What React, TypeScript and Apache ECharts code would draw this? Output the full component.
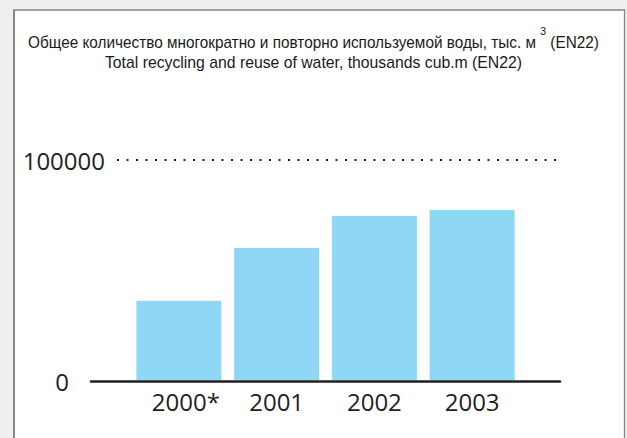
import React, { useEffect, useRef } from "react";
import * as echarts from "echarts";

const categories = ["2000*", "2001", "2002", "2003"];
const values = [36000, 60000, 74500, 77300];
const yMax = 100000;
const titleLine1 = "Общее количество многократно и повторно используемой воды, тыс. м";
const titleSup = "3";
const titleLine1End = " (EN22)";
const titleLine2 = "Total recycling and reuse of water, thousands cub.m (EN22)";

const TEXT = "#231f20";
const TITLE_COLOR = "#1a1a1a";
const LABEL_FONT = "'Open Sans', 'Noto Sans', sans-serif";
const TITLE_FAMILY = "'Liberation Sans', Arial, sans-serif";
const TITLE_SIZE = 16;
const SUP_SIZE = 11;
const LINE1_SCALE = 0.958;
const LINE2_SCALE = 0.986;
const CENTER_X = 313.5;

function measure(text: string, size: number): number {
  const ctx = document.createElement("canvas").getContext("2d");
  if (!ctx) return text.length * size * 0.5;
  ctx.font = `${size}px ${TITLE_FAMILY}`;
  return ctx.measureText(text).width;
}

export default function App() {
  const ref = useRef<HTMLDivElement>(null);
  useEffect(() => {
    if (!ref.current) return;
    document.documentElement.style.overflow = "hidden";
    document.body.style.overflow = "hidden";
    document.body.style.margin = "0";
    const chart = echarts.init(ref.current, undefined, { renderer: "svg" });

    const wA = measure(titleLine1, TITLE_SIZE);
    const wS = measure(titleSup, SUP_SIZE);
    const wB = measure(titleLine1End, TITLE_SIZE);
    const supGap = 4;
    const total = (wA + supGap + wS + wB) * LINE1_SCALE;
    const x0 = CENTER_X - total / 2;
    const titleFont = (size: number) => ({
      fontFamily: TITLE_FAMILY,
      fontSize: size,
      fill: TITLE_COLOR,
      verticalAlign: "middle",
      align: "left",
    });

    chart.setOption({
      animation: false,
      backgroundColor: "#eff0ee",
      graphic: {
        elements: [
          {
            type: "rect",
            z: -10,
            silent: true,
            shape: { x: 14, y: 10, width: 610.5, height: 800 },
            style: { fill: "#ffffff", stroke: "#858585", lineWidth: 1.3 },
          },
          {
            type: "line",
            z: -9,
            silent: true,
            shape: { x1: 14, y1: 10, x2: 14, y2: 450 },
            style: { stroke: "#7d7d7d", lineWidth: 1.6 },
          },
          {
            type: "group",
            x: x0,
            y: 0,
            scaleX: LINE1_SCALE,
            children: [
              { type: "text", x: 0, y: 42, style: { text: titleLine1, ...titleFont(TITLE_SIZE) } },
              { type: "text", x: wA + supGap, y: 31, style: { text: titleSup, ...titleFont(SUP_SIZE) } },
              { type: "text", x: wA + supGap + wS, y: 42, style: { text: titleLine1End, ...titleFont(TITLE_SIZE) } },
            ],
          },
          {
            type: "text",
            x: CENTER_X,
            y: 62,
            scaleX: LINE2_SCALE,
            style: { text: titleLine2, ...titleFont(TITLE_SIZE), align: "center" },
          },
        ],
      },
      grid: [
        { left: 130, width: 391, top: 160, bottom: 58 },
        { left: 117, right: 68, top: 160, bottom: 58 },
        { left: 91, right: 67, top: 161, bottom: 57 },
      ],
      xAxis: [
        {
          type: "category",
          gridIndex: 0,
          data: categories,
          axisLine: { show: false },
          axisTick: { show: false },
          axisLabel: {
            interval: 0,
            margin: 9,
            fontFamily: LABEL_FONT,
            fontSize: 24,
            color: TEXT,
            formatter: (v: string) => (v.endsWith("*") ? `{p|${v}}` : v),
            rich: {
              p: {
                fontFamily: LABEL_FONT,
                fontSize: 24,
                color: TEXT,
                padding: [0, 0, 0, 14],
              },
            },
          },
        },
        { type: "value", gridIndex: 1, show: false },
        {
          type: "value",
          gridIndex: 2,
          axisLine: { show: true, onZero: false, lineStyle: { color: TEXT, width: 2.5 } },
          axisTick: { show: false },
          axisLabel: { show: false },
          splitLine: { show: false },
        },
      ],
      yAxis: [
        { type: "value", gridIndex: 0, min: 0, max: yMax, show: false },
        {
          type: "value",
          gridIndex: 1,
          min: 0,
          max: yMax,
          interval: yMax,
          axisLine: { show: false },
          axisTick: { show: false },
          axisLabel: {
            margin: 12,
            fontFamily: LABEL_FONT,
            fontSize: 24,
            color: TEXT,
            formatter: (v: number) => (v === yMax ? String(v) : ""),
          },
          splitLine: {
            show: true,
            showMinLine: false,
            lineStyle: { color: TEXT, width: 2, type: [2, 7.5] },
          },
        },
        {
          type: "value",
          gridIndex: 2,
          min: 0,
          max: yMax,
          interval: yMax,
          axisLine: { show: false },
          axisTick: { show: false },
          splitLine: { show: false },
          axisLabel: {
            margin: 22,
            fontFamily: LABEL_FONT,
            fontSize: 24,
            color: TEXT,
            formatter: (v: number) => (v === 0 ? "0" : ""),
          },
        },
      ],
      series: [
        {
          type: "bar",
          xAxisIndex: 0,
          yAxisIndex: 0,
          data: values,
          barWidth: 85,
          itemStyle: { color: "#8fd8f5" },
          z: 3,
        },
      ],
    });
    return () => chart.dispose();
  }, []);
  return (
    <div
      ref={ref}
      style={{ position: "fixed", left: 0, top: 0, width: 627, height: 438 }}
    />
  );
}
